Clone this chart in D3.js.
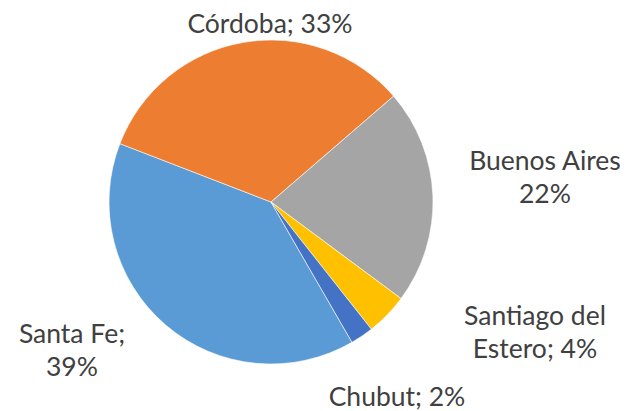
<!DOCTYPE html>
<html>
<head>
<meta charset="utf-8">
<script src="https://cdn.jsdelivr.net/npm/d3@7"></script>
<style>
  html, body { margin: 0; padding: 0; background: #ffffff; }
  svg { display: block; }
  text { font-family: Lato, "Open Sans", sans-serif; fill: #404040; }
</style>
</head>
<body>
<svg id="chart" width="640" height="411"></svg>
<script>
const categories = ["Santa Fe", "Córdoba", "Buenos Aires", "Santiago del Estero", "Chubut"];
const values = [39.2, 32.8, 21.5, 4.2, 2.3];
const colors = ["#5B9BD5", "#ED7D31", "#A5A5A5", "#FFC000", "#4472C4"];
const labelLines = [
  ["Santa Fe;", "39%"],
  ["Córdoba; 33%"],
  ["Buenos Aires", "22%"],
  ["Santiago del", "Estero; 4%"],
  ["Chubut; 2%"]
];

// layout (not data)
const W = 640, H = 411;
const cx = 271, cy = 202, R = 162;
const startDeg = 150;
const labelPos = [
  [72, 343], [270, 33], [545, 170], [535, 325], [397, 406]
];
const lineH = 33;

const svg = d3.select("#chart");
const g = svg.append("g").attr("transform", `translate(${cx},${cy})`);

const start = startDeg * Math.PI / 180;
const pie = d3.pie().sort(null).value(d => d.v)
  .startAngle(start).endAngle(start + 2 * Math.PI);
const arc = d3.arc().innerRadius(0).outerRadius(R);
const data = categories.map((c, i) => ({ c, v: values[i], i }));

g.selectAll("path.slice").data(pie(data)).join("path")
  .attr("class", "slice")
  .attr("d", arc)
  .attr("fill", d => colors[d.data.i])
  .attr("stroke", "#ffffff")
  .attr("stroke-width", 0.6);

const lbl = svg.append("g");
data.forEach((d, i) => {
  const t = lbl.append("text")
    .attr("x", labelPos[i][0])
    .attr("y", labelPos[i][1])
    .attr("text-anchor", "middle")
    .attr("font-size", 26.5);
  labelLines[i].forEach((ln, k) => {
    t.append("tspan").attr("x", labelPos[i][0]).attr("dy", k === 0 ? 0 : lineH).text(ln);
  });
});
</script>
</body>
</html>
